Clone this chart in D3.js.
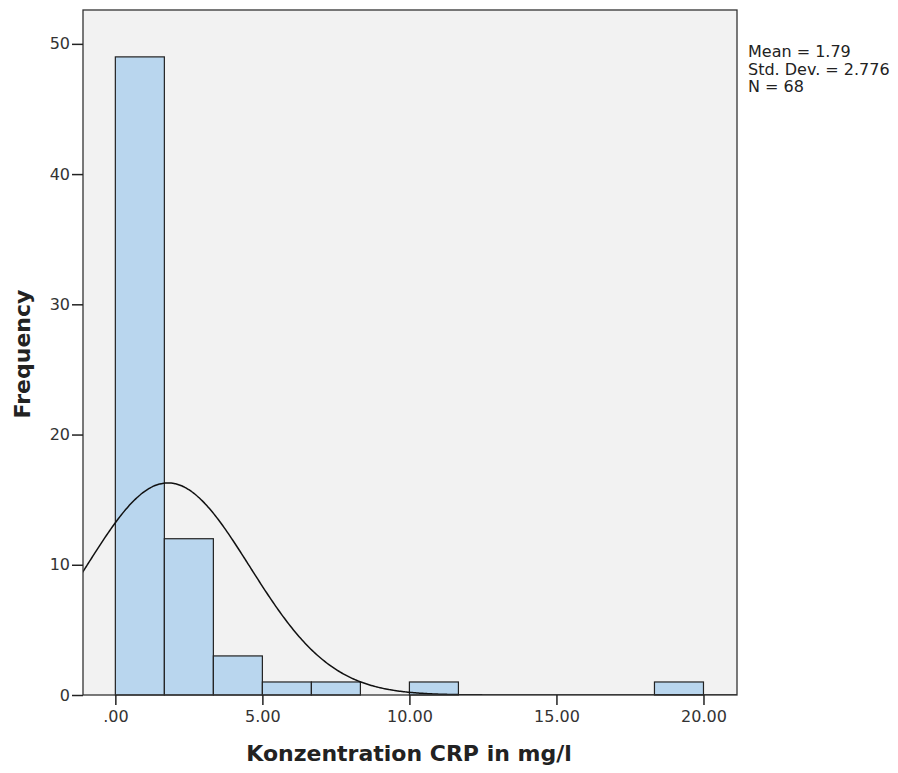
<!DOCTYPE html>
<html>
<head>
<meta charset="utf-8">
<script src="https://cdn.jsdelivr.net/npm/d3@7"></script>
<style>
  html, body { margin: 0; padding: 0; background: #ffffff; }
  svg { display: block; font-family: "DejaVu Sans", "Lucida Grande", sans-serif; }
</style>
</head>
<body>
<svg id="chart" width="898" height="773"></svg>
<script>
// Histogram of CRP concentration with fitted normal curve
const binStarts = [0, 1.6667, 3.3333, 5, 6.6667, 10, 18.3333];
const binWidth = 20 / 12;
const frequencies = [49, 12, 3, 1, 1, 1, 1];
const xTicks = [0, 5, 10, 15, 20];
const xTickLabels = [".00", "5.00", "10.00", "15.00", "20.00"];
const yTicks = [0, 10, 20, 30, 40, 50];
const statsLines = ["Mean = 1.79", "Std. Dev. = 2.776", "N = 68"];
const mean = 1.79, sd = 2.776, n = 68;

const svg = d3.select("#chart");
const plot = { left: 83, top: 10, right: 737, bottom: 695 };

const x = d3.scaleLinear().domain([-1.1, 21.14]).range([plot.left, plot.right]);
const y = d3.scaleLinear().domain([0, 52.6]).range([plot.bottom, plot.top]);

// plot background
svg.append("rect")
  .attr("x", plot.left).attr("y", plot.top)
  .attr("width", plot.right - plot.left).attr("height", plot.bottom - plot.top)
  .attr("fill", "#f2f2f2");

svg.append("clipPath").attr("id", "clip")
  .append("rect")
  .attr("x", plot.left).attr("y", plot.top)
  .attr("width", plot.right - plot.left).attr("height", plot.bottom - plot.top);

// bars
svg.append("g").selectAll("rect")
  .data(binStarts.map((s, i) => ({ s, f: frequencies[i] })))
  .join("rect")
  .attr("x", d => x(d.s))
  .attr("y", d => y(d.f))
  .attr("width", d => x(d.s + binWidth) - x(d.s))
  .attr("height", d => y(0) - y(d.f))
  .attr("fill", "#b9d6ee")
  .attr("stroke", "#222")
  .attr("stroke-width", 1.2);

// normal curve scaled to counts
const scaleFactor = n * binWidth / (sd * Math.sqrt(2 * Math.PI));
const curvePts = d3.range(-1.2, 21.2, 0.05).map(v => [v, scaleFactor * Math.exp(-((v - mean) ** 2) / (2 * sd * sd))]);
svg.append("path")
  .attr("clip-path", "url(#clip)")
  .datum(curvePts)
  .attr("fill", "none")
  .attr("stroke", "#111")
  .attr("stroke-width", 1.5)
  .attr("d", d3.line().x(d => x(d[0])).y(d => y(d[1])).curve(d3.curveBasis));

// frame
svg.append("rect")
  .attr("x", plot.left).attr("y", plot.top)
  .attr("width", plot.right - plot.left).attr("height", plot.bottom - plot.top)
  .attr("fill", "none").attr("stroke", "#333").attr("stroke-width", 1.3);

// axes
const xAxis = svg.append("g")
  .attr("transform", `translate(0,${plot.bottom})`)
  .call(d3.axisBottom(x).tickValues(xTicks).tickFormat((d, i) => xTickLabels[i]).tickSize(10).tickPadding(6));
const yAxis = svg.append("g")
  .attr("transform", `translate(${plot.left},0)`)
  .call(d3.axisLeft(y).tickValues(yTicks).tickFormat(d3.format("d")).tickSize(11).tickPadding(2));
[xAxis, yAxis].forEach(g => {
  g.select(".domain").remove();
  g.selectAll(".tick line").attr("stroke", "#222").attr("stroke-width", 1.5);
  g.selectAll(".tick text").attr("fill", "#333").style("font-size", "16px").style("font-family", "DejaVu Sans, sans-serif");
});

// axis titles
svg.append("text")
  .attr("x", 409).attr("y", 761)
  .attr("text-anchor", "middle")
  .attr("fill", "#222")
  .style("font-size", "22px").style("font-weight", "bold")
  .text("Konzentration CRP in mg/l");

svg.append("text")
  .attr("transform", "translate(30,354) rotate(-90)")
  .attr("text-anchor", "middle")
  .attr("fill", "#222")
  .style("font-size", "22px").style("font-weight", "bold")
  .text("Frequency");

// summary statistics
svg.append("g").selectAll("text")
  .data(statsLines)
  .join("text")
  .attr("x", 748)
  .attr("y", (d, i) => 57 + i * 17.5)
  .attr("fill", "#222")
  .style("font-size", "16px")
  .text(d => d);
</script>
</body>
</html>
